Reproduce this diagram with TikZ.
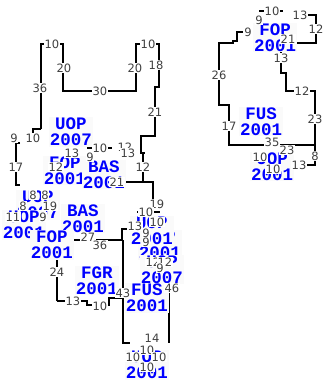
\documentclass[tikz,border=0pt]{standalone}
\usepackage{fontspec}
\newfontfamily\numfont{DejaVu Sans}
\newfontfamily\roomfont{Liberation Mono}
\tikzset{
  wall/.style={line width=1.8pt, line join=miter},
  num/.style={font=\numfont\fontsize{11.5}{12}\selectfont, text=black!75, fill=white, inner sep=0.5pt},
  room/.style={font=\roomfont\bfseries\fontsize{17.5}{16}\selectfont, text=blue, fill=black!2, align=center, inner sep=1pt}
}
\begin{document}
\begin{tikzpicture}[x=1pt,y=-1pt]
\useasboundingbox (0,0) rectangle (329,385);
% ---------- walls, left building ----------
\draw[wall] (41,129)--(41,44)--(63,44)--(63,91)--(136,91)--(136,44)--(159,44)--(159,87)--(155,87)--(155,136)--(141,136)--(141,153)--(145,153);
\draw[wall] (143,153)--(143,182);
\draw[wall] (88,182)--(153,182)--(153,203);
\draw[wall] (41,129)--(33,129)--(33,134);
\draw[wall] (20,143)--(16,143)--(16,185)--(20,185);
\draw[wall] (87,148)--(112,148);
\draw[wall] (137,212)--(160,212);
\draw[wall] (57,301)--(57,240)--(123,240);
\draw[wall] (57,301)--(87,301)--(87,305)--(109,305)--(109,298)--(123,298);
\draw[wall] (129,229)--(122,229)--(122,240);
\draw[wall] (123,240)--(123,343)--(130,343);
\draw[wall] (169,275)--(169,343);
% ---------- walls, right building ----------
\draw[wall] (259,11)--(283,11);
\draw[wall] (243,32)--(237,32)--(237,41)--(233,41)--(233,43)--(219,43)--(219,105)--(229,105)--(229,145)--(315,145);
\draw[wall] (307,15)--(316,15)--(316,43)--(281,43)--(281,73)--(286,73)--(286,91)--(315,91)--(315,165)--(305,165);
% ---------- room labels ----------
\node[room] (uop1) at (71,132) {UOP\\2007};
\node[room] (fop1) at (65,170.5) {FOP\\2001};
\node[room] (bas1) at (104,174.5) {BAS\\2001};
\node[room] (uop2) at (38,205) {UOP\\2007};
\node[room] (uop3) at (24,225) {UOP\\2001};
\node[room] (bas2) at (83,218.5) {BAS\\2001};
\node[room] (fop2) at (52,245) {FOP\\2001};
\node[room] (fgr1) at (97,280.5) {FGR\\2001};
\node[room] (fop3) at (160,245) {FOP\\2001};
\node[room] (uop4) at (152,230.5) {UOP\\2001};
\node[room] (uop5) at (162,269.5) {UOP\\2007};
\node[room] (fus1) at (147,298) {FUS\\2001};
\node[room] (uop6) at (147,365) {UOP\\2001};
\node[num] (m35) at (272,142) {35};
\node[room] (fop4) at (275,37.5) {FOP\\2001};
\node[room] (fus2) at (261,121.5) {FUS\\2001};
\node[room] (uop7) at (272,166.5) {UOP\\2001};
% ---------- dimension labels, left ----------
\node[num] (a1) at (52,44) {10};
\node[num] (a2) at (64,68) {20};
\node[num] (a3) at (100,91) {30};
\node[num] (a4) at (135,68) {20};
\node[num] (a5) at (148,44) {10};
\node[num] (a6) at (156,65) {18};
\node[num] (a7) at (155,112) {21};
\node[num] (a8) at (40,88) {36};
\node[num] (a9) at (14,138) {9};
\node[num] (a10) at (33,138) {10};
\node[num] (a11) at (16,167) {17};
\node[num] (a12) at (100,148) {10};
\node[num] (a13) at (125,147) {12};
\node[num] (a14) at (128,153) {13};
\node[num] (a15) at (72,153) {13};
\node[num] (a16) at (90,157) {9};
\node[num] (a17) at (56,167) {12};
\node[num] (a18) at (143,167) {12};
\node[num] (a19) at (117,182) {21};
\node[num] (a20) at (33,195) {8};
\node[num] (a21) at (45,195) {8};
\node[num] (a22) at (23,206) {8};
\node[num] (a23) at (50,206) {19};
\node[num] (a24) at (13,217) {11};
\node[num] (a25) at (43,217) {9};
\node[num] (a26) at (157,204) {19};
\node[num] (a27) at (146,212) {10};
\node[num] (a28) at (157,222) {10};
\node[num] (a29) at (135,226) {13};
\node[num] (a30) at (146,233) {9};
\node[num] (a31) at (146,242) {9};
\node[num] (a32) at (153,262) {12};
\node[num] (a33) at (165,262) {12};
\node[num] (a34) at (160,268) {9};
\node[num] (a35) at (172,288) {46};
\node[num] (a36) at (123,293) {43};
\node[num] (a37) at (88,237) {27};
\node[num] (a38) at (100,245) {36};
\node[num] (a39) at (57,272) {24};
\node[num] (a40) at (73,301) {13};
\node[num] (a41) at (100,306) {10};
\node[num] (a42) at (152,338) {14};
\node[num] (a43) at (147,350) {10};
\node[num] (a44) at (133,357) {10};
\node[num] (a45) at (159,357) {10};
\node[num] (a46) at (147,367) {10};
% ---------- dimension labels, right ----------
\node[num] (b1) at (272,11) {10};
\node[num] (b2) at (300,15) {13};
\node[num] (b3) at (316,29) {12};
\node[num] (b4) at (288,39) {21};
\node[num] (b5) at (248,32) {9};
\node[num] (b6) at (259,20) {9};
\node[num] (b7) at (281,58) {13};
\node[num] (b8) at (219,75) {26};
\node[num] (b9) at (302,91) {12};
\node[num] (b10) at (315,119) {23};
\node[num] (b11) at (229,126) {17};
\node[num] (b12) at (287,150) {23};
\node[num] (b13) at (315,156) {8};
\node[num] (b14) at (299,165) {13};
\node[num] (b15) at (260,157) {10};
\node[num] (b16) at (273,169) {10};
\end{tikzpicture}
\end{document}
